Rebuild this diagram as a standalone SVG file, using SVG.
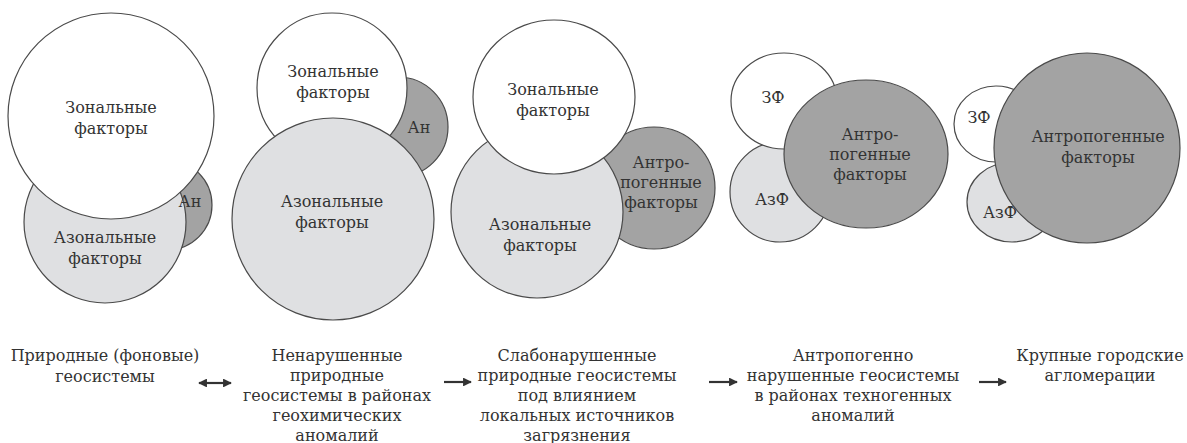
<svg xmlns="http://www.w3.org/2000/svg" width="1187" height="443" viewBox="0 0 1187 443">
<defs>
<style>
.w{fill:#ffffff;stroke:#4a4a4a;stroke-width:1.2}
.l{fill:#dfe0e2;stroke:#4a4a4a;stroke-width:1.2}
.d{fill:#a3a3a3;stroke:#4a4a4a;stroke-width:1.2}
.t{font-size:16px;fill:#333;text-anchor:middle}
.ar{stroke:#333;stroke-width:2.2;fill:none}
</style>
<marker id="ah" viewBox="0 0 10 10" refX="9" refY="5" markerWidth="4.5" markerHeight="4" orient="auto-start-reverse" markerUnits="strokeWidth">
<path d="M0,0 L10,5 L0,10 Z" fill="#333"/>
</marker>
</defs>
<g id="stage1" class="t" font-family="DejaVu Serif, serif">
<circle class="d" cx="167" cy="205" r="45"/>
<circle class="l" cx="105" cy="222" r="81"/>
<circle class="w" cx="111" cy="116" r="103"/>
<text x="111" y="113">Зональные</text>
<text x="111" y="134">факторы</text>
<text x="105" y="243">Азональные</text>
<text x="105" y="264">факторы</text>
<text x="190" y="207">Ан</text>
</g>
<g id="stage2" class="t" font-family="DejaVu Serif, serif">
<circle class="d" cx="398" cy="127" r="50"/>
<circle class="w" cx="332" cy="88" r="75"/>
<circle class="l" cx="333" cy="219" r="101"/>
<text x="333" y="77">Зональные</text>
<text x="333" y="98">факторы</text>
<text x="332" y="207">Азональные</text>
<text x="332" y="228">факторы</text>
<text x="419" y="133">Ан</text>
</g>
<g id="stage3" class="t" font-family="DejaVu Serif, serif">
<circle class="d" cx="654" cy="188" r="61"/>
<circle class="l" cx="537" cy="212" r="86"/>
<ellipse class="w" cx="554" cy="97" rx="81" ry="77"/>
<text x="553" y="95">Зональные</text>
<text x="553" y="116">факторы</text>
<text x="540" y="230">Азональные</text>
<text x="540" y="251">факторы</text>
<text x="661" y="168">Антро-</text>
<text x="661" y="188">погенные</text>
<text x="661" y="208">факторы</text>
</g>
<g id="stage4" class="t" font-family="DejaVu Serif, serif">
<circle class="l" cx="780" cy="192" r="50"/>
<ellipse class="w" cx="784" cy="101" rx="53" ry="48"/>
<ellipse class="d" cx="866" cy="154" rx="82" ry="74"/>
<text x="773" y="103">ЗФ</text>
<text x="772" y="205">АзФ</text>
<text x="870" y="140">Антро-</text>
<text x="870" y="160">погенные</text>
<text x="870" y="180">факторы</text>
</g>
<g id="stage5" class="t" font-family="DejaVu Serif, serif">
<ellipse class="w" cx="996" cy="124" rx="42" ry="38"/>
<ellipse class="l" cx="1012" cy="202" rx="45" ry="40"/>
<ellipse class="d" cx="1087" cy="148" rx="93" ry="95"/>
<text x="979" y="123">ЗФ</text>
<text x="1000" y="218">АзФ</text>
<text x="1098" y="142">Антропогенные</text>
<text x="1098" y="163">факторы</text>
</g>
<g id="labels" class="t" font-family="DejaVu Serif, serif">
<text x="105" y="361">Природные (фоновые)</text>
<text x="105" y="382">геосистемы</text>
<text x="337" y="361">Ненарушенные</text>
<text x="337" y="381">природные</text>
<text x="337" y="401">геосистемы в районах</text>
<text x="337" y="421">геохимических</text>
<text x="337" y="441">аномалий</text>
<text x="577" y="361">Слабонарушенные</text>
<text x="577" y="381">природные геосистемы</text>
<text x="577" y="401">под влиянием</text>
<text x="577" y="421">локальных источников</text>
<text x="577" y="441">загрязнения</text>
<text x="853" y="361">Антропогенно</text>
<text x="853" y="381">нарушенные геосистемы</text>
<text x="853" y="401">в районах техногенных</text>
<text x="853" y="421">аномалий</text>
<text x="1100" y="361">Крупные городские</text>
<text x="1100" y="381">агломерации</text>
</g>
<g id="connectors">
<line class="ar" x1="199" y1="383" x2="231" y2="383" marker-start="url(#ah)" marker-end="url(#ah)"/>
<line class="ar" x1="444" y1="382" x2="471" y2="382" marker-end="url(#ah)"/>
<line class="ar" x1="709" y1="382" x2="737" y2="382" marker-end="url(#ah)"/>
<line class="ar" x1="979" y1="382" x2="1006" y2="382" marker-end="url(#ah)"/>
</g>
</svg>
